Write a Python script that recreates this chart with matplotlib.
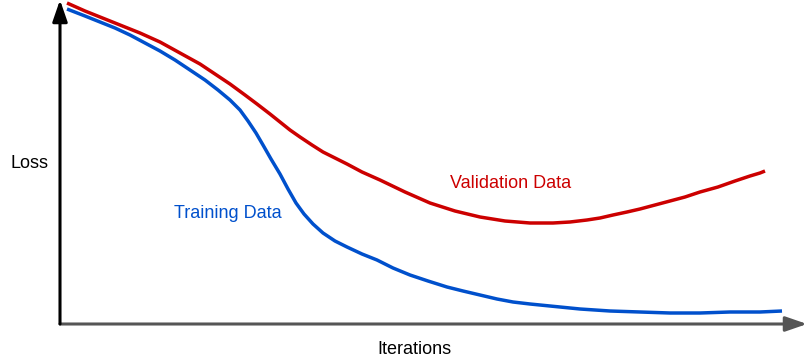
import matplotlib
matplotlib.use("Agg")
import matplotlib.pyplot as plt

# Iterations (x) and loss (y)
val_iter = [7, 25, 40, 60, 80, 100, 120, 140, 155, 170,
            185, 197, 210, 220, 230, 240, 252, 263, 275, 287,
            302, 320, 345, 370, 395, 420, 445, 470, 493, 510,
            527, 540, 553, 567, 580, 595, 610, 625, 640, 658,
            675, 690, 700, 705]
val_loss = [321, 313, 307, 299, 291, 282, 271, 260, 250, 240,
            229, 220, 210, 202, 194, 187, 179, 172, 166, 160,
            152, 144, 132, 121, 113, 107, 103, 101, 101, 102,
            104, 106, 109, 112, 115, 119, 123, 127, 132, 137,
            143, 148, 151, 153]

train_iter = [7, 25, 40, 55, 70, 85, 100, 115, 130, 145,
              158, 170, 180, 188, 196, 203, 211, 220, 228, 236,
              244, 253, 263, 275, 287, 302, 317, 333, 350, 368,
              387, 403, 420, 437, 453, 470, 490, 520, 550, 580,
              610, 640, 670, 700, 722]
train_loss = [315, 308, 302, 296, 289, 281, 273, 264, 254, 244,
              234, 224, 214, 203, 191, 179, 165, 150, 135, 121,
              110, 100, 91, 83, 77, 70, 64, 56, 49, 43,
              37, 33, 29, 25, 22, 20, 18, 15, 13, 12,
              11, 11, 12, 12, 13]

RED = "#CC0000"
BLUE = "#0050CC"

fig = plt.figure(figsize=(8.07, 3.64), dpi=100)
W, H = 807, 364
ax = fig.add_axes([60 / W, (H - 324) / H, (W - 60) / W, 324 / H])
ax.set_xlim(0, 747)
ax.set_ylim(0, 324)
ax.axis("off")

ax.plot(val_iter, val_loss, color=RED, lw=2.5, solid_capstyle="butt",
        solid_joinstyle="round", zorder=3)
ax.plot(train_iter, train_loss, color=BLUE, lw=2.5, solid_capstyle="butt",
        solid_joinstyle="round", zorder=3)

# axes arrows
ax.annotate("", xy=(1.0, 0), xytext=(0, 0), xycoords="axes fraction",
            arrowprops=dict(arrowstyle="-|>,head_length=1.3,head_width=0.45",
                            color="#555555", lw=2.2, shrinkA=0, shrinkB=0), zorder=2)
ax.annotate("", xy=(0, 1.0), xytext=(0, 0), xycoords="axes fraction",
            arrowprops=dict(arrowstyle="-|>,head_length=1.3,head_width=0.45",
                            color="black", lw=2.2, shrinkA=0, shrinkB=0), zorder=4)

font = ["Liberation Sans", "DejaVu Sans"]
fs = 13
fig.text(29 / W, 1 - 163 / H, "Loss", ha="center", va="center", fontsize=fs, family=font)
fig.text(414 / W, 1 - 349 / H, "Iterations", ha="center", va="center", fontsize=fs, family=font)
fig.text(228 / W, 1 - 214 / H, "Training Data", ha="center", va="center", fontsize=fs, color=BLUE, family=font)
fig.text(511 / W, 1 - 184 / H, "Validation Data", ha="center", va="center", fontsize=fs, color=RED, family=font)

fig.savefig("out.png", dpi=100)
